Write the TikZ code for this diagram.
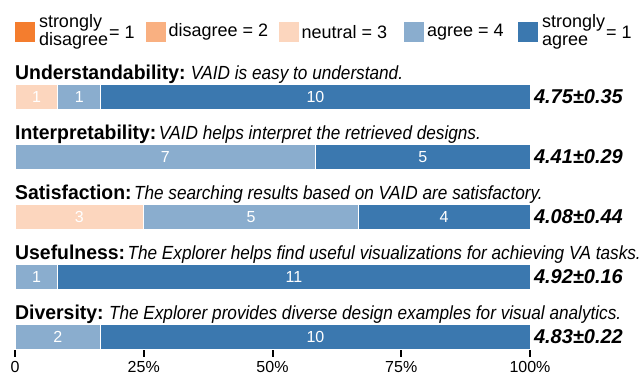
\documentclass[tikz,border=0pt]{standalone}
\usepackage{fontspec}
\setmainfont{Liberation Sans}
\newfontfamily\headfont[FakeStretch=0.97]{Liberation Sans}
\newfontfamily\condfont[FakeStretch=0.905]{Liberation Sans}
\def\votew{42.917pt}
\usepackage{tikz}
\usetikzlibrary{positioning}
\definecolor{sdis}{HTML}{F47D2E}
\definecolor{dis}{HTML}{F9B081}
\definecolor{neu}{HTML}{FCD6BE}
\definecolor{agr}{HTML}{8AADCE}
\definecolor{sagr}{HTML}{3B78AF}

\begin{document}
\begin{tikzpicture}[x=1pt, y=-1pt, node distance=0pt]
	\tikzstyle{seg}=[draw=white, line width=1pt, minimum height=25pt, inner sep=0pt, outer sep=0pt, text=white, font=\fontsize{16}{16}\selectfont]
	\tikzstyle{neutral seg}=[seg, fill=neu]
	\tikzstyle{agree seg}=[seg, fill=agr]
	\tikzstyle{sagree seg}=[seg, fill=sagr]
	\tikzstyle{legend box}=[minimum size=20pt, inner sep=0pt, outer sep=0pt]
	\tikzstyle{legend text}=[inner sep=0pt, outer sep=0pt, align=left, font=\fontsize{18}{18}\selectfont]
	\tikzstyle{question}=[anchor=base west, inner sep=0pt, font=\headfont\bfseries\fontsize{20}{24}\selectfont]
	\tikzstyle{statement}=[anchor=base west, inner sep=0pt, font=\condfont\itshape\fontsize{19}{23}\selectfont]
	\tikzstyle{score}=[inner sep=0pt, outer sep=0pt, font=\bfseries\itshape\fontsize{20}{24}\selectfont]
	\tikzstyle{axis label}=[inner sep=0pt, font=\fontsize{16}{16}\selectfont]
	\tikzstyle{tick}=[line width=2pt, black]
	
	\useasboundingbox (0,0) rectangle (644,375);
	
	% Draw the legend
	\node[legend box, fill=sdis] (sd) at (25,32) {};
	\node[legend text, right=4pt of sd] (sd_text) {strongly\\disagree};
	\node[legend text, right=1pt of sd_text] (sd_val) {= 1};
	\node[legend box, fill=dis] (d) at (155.5,32) {};
	\node[legend text, right=3pt of d] (d_text) {disagree = 2};
	\node[legend box, fill=neu] (n) at (288.5,32) {};
	\node[legend text, right=3pt of n] (n_text) {neutral = 3};
	\node[legend box, fill=agr] (a) at (414,32) {};
	\node[legend text, right=3pt of a] (a_text) {agree = 4};
	\node[legend box, fill=sagr] (sa) at (528,32) {};
	\node[legend text, right=4pt of sa] (sa_text) {strongly\\agree};
	\node[legend text, right=1pt of sa_text] (sa_val) {= 1};
	
	% Understandability
	\node[question] (q1) at (15,79) {Understandability:};
	\node[statement] (s1) at ([xshift=5pt]q1.base east) {VAID is easy to understand.};
	\node[neutral seg, minimum width=\votew, anchor=west] (u1) at (15,97) {1};
	\node[agree seg, minimum width=\votew, right=of u1] (u2) {1};
	\node[sagree seg, minimum width=10*\votew, right=of u2] (u3) {10};
	\node[score, right=4pt of u3] (m1) {4.75±0.35};
	
	% Interpretability
	\node[question] (q2) at (15,139) {Interpretability:};
	\node[statement] (s2) at ([xshift=2pt]q2.base east) {VAID helps interpret the retrieved designs.};
	\node[agree seg, minimum width=7*\votew, anchor=west] (i1) at (15,157) {7};
	\node[sagree seg, minimum width=5*\votew, right=of i1] (i2) {5};
	\node[score, right=4pt of i2] (m2) {4.41±0.29};
	
	% Satisfaction
	\node[question] (q3) at (15,199) {Satisfaction:};
	\node[statement] (s3) at ([xshift=2pt]q3.base east) {The searching results based on VAID are satisfactory.};
	\node[neutral seg, minimum width=3*\votew, anchor=west] (t1) at (15,217) {3};
	\node[agree seg, minimum width=5*\votew, right=of t1] (t2) {5};
	\node[sagree seg, minimum width=4*\votew, right=of t2] (t3) {4};
	\node[score, right=4pt of t3] (m3) {4.08±0.44};
	
	% Usefulness
	\node[question] (q4) at (15,259) {Usefulness:};
	\node[statement] (s4) at ([xshift=2pt]q4.base east) {The Explorer helps find useful visualizations for achieving VA tasks.};
	\node[agree seg, minimum width=\votew, anchor=west] (f1) at (15,277) {1};
	\node[sagree seg, minimum width=11*\votew, right=of f1] (f2) {11};
	\node[score, right=4pt of f2] (m4) {4.92±0.16};
	
	% Diversity
	\node[question] (q5) at (15,319) {Diversity:};
	\node[statement] (s5) at ([xshift=5pt]q5.base east) {The Explorer provides diverse design examples for visual analytics.};
	\node[agree seg, minimum width=2*\votew, anchor=west] (v1) at (15,337) {2};
	\node[sagree seg, minimum width=10*\votew, right=of v1] (v2) {10};
	\node[score, right=4pt of v2] (m5) {4.83±0.22};
	
	% Draw the axis ticks
	\draw[tick] (15,350) -- (15,357);
	\draw[tick] (143.75,350) -- (143.75,357);
	\draw[tick] (272.5,350) -- (272.5,357);
	\draw[tick] (401.25,350) -- (401.25,357);
	\draw[tick] (530,350) -- (530,357);
	\node[axis label] (p0) at (15,367) {0};
	\node[axis label] (p25) at (143.75,367) {25\%};
	\node[axis label] (p50) at (272.5,367) {50\%};
	\node[axis label] (p75) at (401.25,367) {75\%};
	\node[axis label] (p100) at (530,367) {100\%};
\end{tikzpicture}
\end{document}
